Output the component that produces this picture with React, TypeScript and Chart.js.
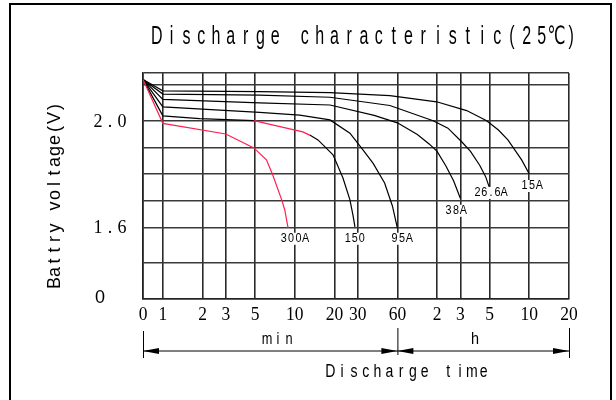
import React, { useEffect, useRef } from 'react';
import { Chart, registerables } from 'chart.js';

Chart.register(...registerables);

const TITLE = 'Discharge characteristic(25℃)';
const Y_TITLE = 'Battry voltage(V)';
const X_TITLE = 'Discharge time';
const MIN_LABEL = 'min';
const H_LABEL = 'h';

// x axis: discharge time in minutes (log-like spacing, 0 at the origin)
const xTickMinutes = [0, 1, 2, 3, 5, 10, 20, 30, 60, 120, 180, 300, 600, 1200];
const xTickLabels = ['0', '1', '2', '3', '5', '10', '20', '30', '60', '2', '3', '5', '10', '20'];
// y axis: voltage gridlines (broken axis: bottom line is labelled "0")
const yGridVolts = [1.331, 1.466, 1.6, 1.7, 1.8, 1.9, 2.0, 2.134, 2.179];
const yTickVolts = [2.0, 1.6, 1.331];
const yTickLabels = ['2.0', '1.6', '0'];

const seriesNames = ['300A', '150', '95A', '38A', '26.6A', '15A'];

const t300 = [0, 1, 3, 4.9, 6.1, 6.8, 8.0, 8.4, 8.9];
const v300 = [2.155, 1.99, 1.95, 1.898, 1.853, 1.797, 1.7, 1.665, 1.598];

const t150 = [0, 1, 1.9, 4.9, 11.5, 13, 15, 19.5, 23.2, 26.2, 27.6, 28.6];
const v150 = [2.155, 2.018, 2.008, 2.0, 1.958, 1.946, 1.928, 1.872, 1.785, 1.703, 1.647, 1.602];

const t95 = [0, 1, 5.4, 10.9, 18.5, 26.2, 33, 39.3, 48, 55, 60];
const v95 = [2.155, 2.052, 2.031, 2.021, 2.003, 1.953, 1.89, 1.84, 1.766, 1.68, 1.597];

const t38 = [0, 1, 5.4, 18.5, 40, 60, 85, 105, 120, 140, 160, 180];
const v38 = [2.155, 2.08, 2.067, 2.059, 2.02, 1.992, 1.948, 1.912, 1.885, 1.83, 1.775, 1.709];

const t26 = [0, 1, 5.4, 18.5, 52.6, 112, 145, 185, 215, 253, 280, 300];
const v26 = [2.155, 2.1, 2.096, 2.088, 2.057, 2.0, 1.972, 1.92, 1.885, 1.832, 1.79, 1.747];

const t15 = [0, 1, 5.4, 18.5, 52.6, 119, 201, 285, 350, 413, 525, 600];
const v15 = [2.155, 2.112, 2.109, 2.105, 2.094, 2.071, 2.038, 2.0, 1.965, 1.928, 1.853, 1.8];

// label anchors in data space (minutes, volts)
const labelMinutes = [10, 28.5, 65, 167, 307, 628];
const labelVolts = [1.557, 1.557, 1.557, 1.662, 1.729, 1.755];

// part of the 150A curve drawn in red (minutes)
const RED_150_FROM = 4.9;
const RED_150_TO = 13;

const RED = '#ff1f4f';
const INK = '#000000';

const pos = (m: number) => (m <= 0 ? -0.5 : Math.log2(m));

const seriesTimes = [t300, t150, t95, t38, t26, t15];
const seriesVolts = [v300, v150, v95, v38, v26, v15];

function drawPitched(
  ctx: CanvasRenderingContext2D,
  text: string,
  cx: number,
  cy: number,
  pitch: number,
  font: string,
  sx = 1
) {
  const chars = [...text];
  ctx.font = font;
  ctx.textAlign = 'center';
  ctx.textBaseline = 'middle';
  const start = cx - (pitch * (chars.length - 1)) / 2;
  chars.forEach((ch, i) => {
    ctx.save();
    ctx.translate(start + i * pitch, cy);
    ctx.scale(sx, 1);
    ctx.fillText(ch, 0, 0);
    ctx.restore();
  });
}

function arrowHead(ctx: CanvasRenderingContext2D, tipX: number, y: number, dir: number) {
  ctx.beginPath();
  ctx.moveTo(tipX, y);
  ctx.lineTo(tipX - dir * 16, y - 3);
  ctx.lineTo(tipX - dir * 16, y + 3);
  ctx.closePath();
  ctx.fill();
}

const annotations = {
  id: 'annotations',
  afterDatasetsDraw(chart: any) {
    const ctx: CanvasRenderingContext2D = chart.ctx;
    const xs = chart.scales.x;
    const ys = chart.scales.y;
    ctx.save();
    ctx.fillStyle = INK;
    ctx.strokeStyle = INK;

    // curve labels with white backing
    seriesNames.forEach((name, i) => {
      const px = xs.getPixelForValue(pos(labelMinutes[i]));
      const py = ys.getPixelForValue(labelVolts[i]);
      ctx.font = '12px "Liberation Sans", Arial, sans-serif';
      const w = ctx.measureText(name).width * 0.9 + name.length * 1;
      ctx.fillStyle = '#ffffff';
      ctx.fillRect(px - w / 2 - 2, py - 6, w + 4, 12);
      ctx.fillStyle = INK;
      drawPitched(ctx, name, px, py, w / name.length, '12px "Liberation Sans", Arial, sans-serif', 0.9);
    });
    ctx.restore();
  },
  afterDraw(chart: any) {
    const ctx: CanvasRenderingContext2D = chart.ctx;
    const xs = chart.scales.x;
    const ys = chart.scales.y;
    ctx.save();
    ctx.fillStyle = INK;
    ctx.strokeStyle = INK;

    // frame
    ctx.lineWidth = 2;
    ctx.beginPath();
    ctx.moveTo(10, 410);
    ctx.lineTo(10, 4);
    ctx.lineTo(611, 4);
    ctx.lineTo(611, 410);
    ctx.stroke();

    // title
    drawPitched(ctx, TITLE, 364, 37, 14.8, '25px "Liberation Sans", "DejaVu Sans", sans-serif', 0.64);

    // y title
    ctx.save();
    ctx.translate(55, 195);
    ctx.rotate(-Math.PI / 2);
    drawPitched(ctx, Y_TITLE, 0, 0, 11, '18px "Liberation Sans", Arial, sans-serif', 1);
    ctx.restore();

    // y tick labels
    yTickVolts.forEach((v, i) => {
      const py = ys.getPixelForValue(v);
      const lab = yTickLabels[i];
      if (lab === '0') {
        drawPitched(ctx, lab, 100, py - 1, 10, '18px "Liberation Sans", Arial, sans-serif', 1);
      } else {
        drawPitched(ctx, lab, 110, py + 1, 12, '19px "Liberation Serif", "Times New Roman", serif', 0.95);
      }
    });

    // x tick labels
    xTickMinutes.forEach((m, i) => {
      const px = xs.getPixelForValue(pos(m));
      ctx.save();
      ctx.font = '19px "Liberation Serif", "Times New Roman", serif';
      ctx.textAlign = 'center';
      ctx.textBaseline = 'middle';
      ctx.translate(px, 315);
      ctx.scale(0.92, 1);
      ctx.fillText(xTickLabels[i], 0, 0);
      ctx.restore();
    });

    // dimension arrows
    const x0 = xs.getPixelForValue(pos(0));
    const x60 = xs.getPixelForValue(pos(60));
    const xEnd = xs.getPixelForValue(pos(1200));
    const ay = 351;
    ctx.lineWidth = 1;
    ctx.beginPath();
    ctx.moveTo(x0, ay);
    ctx.lineTo(xEnd, ay);
    ctx.moveTo(x0 + 0.5, 331);
    ctx.lineTo(x0 + 0.5, 358);
    ctx.moveTo(x60 + 0.5, 328);
    ctx.lineTo(x60 + 0.5, 355);
    ctx.moveTo(xEnd + 0.5, 328);
    ctx.lineTo(xEnd + 0.5, 358);
    ctx.stroke();
    arrowHead(ctx, x0, ay, -1);
    arrowHead(ctx, x60, ay, 1);
    arrowHead(ctx, x60, ay, -1);
    arrowHead(ctx, xEnd, ay, 1);

    drawPitched(ctx, MIN_LABEL, 278, 339, 11, '17px "Liberation Sans", Arial, sans-serif', 0.75);
    drawPitched(ctx, H_LABEL, 475, 339, 11, '17px "Liberation Sans", Arial, sans-serif', 0.85);
    drawPitched(ctx, X_TITLE, 407, 372, 11.8, '18px "Liberation Sans", Arial, sans-serif', 0.78);

    ctx.restore();
  },
};

export default function App() {
  const ref = useRef<HTMLCanvasElement | null>(null);

  useEffect(() => {
    if (!ref.current) return;
    const datasets = seriesNames.map((name, i) => ({
      label: name,
      data: seriesTimes[i].map((t, j) => ({ x: pos(t), y: seriesVolts[i][j] })),
      borderColor: i === 0 ? RED : INK,
      borderWidth: 1.2,
      pointRadius: 0,
      tension: 0,
      fill: false,
      segment:
        i === 1
          ? {
              borderColor: (c: any) =>
                c.p0.parsed.x >= pos(RED_150_FROM) - 1e-6 && c.p1.parsed.x <= pos(RED_150_TO) + 1e-6
                  ? RED
                  : INK,
            }
          : undefined,
    }));

    const chart = new Chart(ref.current, {
      type: 'line',
      data: { datasets },
      plugins: [annotations],
      options: {
        animation: false,
        responsive: false,
        devicePixelRatio: 1,
        layout: { padding: { left: 143, right: 47, top: 73, bottom: 101 } },
        plugins: {
          legend: { display: false },
          tooltip: { enabled: false },
          title: { display: false },
        },
        scales: {
          x: {
            type: 'linear',
            min: pos(0),
            max: pos(1200),
            afterBuildTicks: (s: any) => {
              s.ticks = xTickMinutes.map((m) => ({ value: pos(m) }));
            },
            ticks: { display: false },
            grid: { color: '#2a2a2a', lineWidth: 1.6, drawTicks: false },
            border: { display: true, color: '#222222', width: 1.6 },
          },
          y: {
            type: 'linear',
            min: yGridVolts[0],
            max: yGridVolts[yGridVolts.length - 1],
            afterBuildTicks: (s: any) => {
              s.ticks = yGridVolts.map((v) => ({ value: v }));
            },
            ticks: { display: false },
            grid: { color: '#3a3a3a', lineWidth: 1.6, drawTicks: false },
            border: { display: true, color: '#222222', width: 1.6 },
          },
        },
      },
    } as any);
    return () => chart.destroy();
  }, []);

  return (
    <div style={{ position: 'fixed', left: 0, top: 0, width: 616, height: 400, background: '#fff' }}>
      <canvas ref={ref} width={616} height={400} style={{ display: 'block' }} />
    </div>
  );
}
